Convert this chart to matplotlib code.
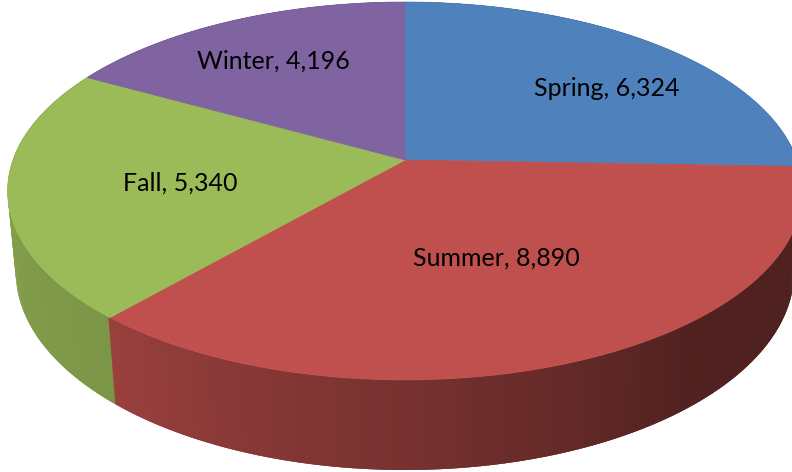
import numpy as np
import matplotlib
matplotlib.use("Agg")
import matplotlib.pyplot as plt
from matplotlib.patches import Polygon
from matplotlib.colors import to_rgb

# ---- data ----
seasons = ["Spring", "Summer", "Fall", "Winter"]
values = [6324, 8890, 5340, 4196]
colors = ["#4F81BD", "#C0504D", "#9BBB59", "#8064A2"]

# ---- layout / style ----
W, H = 792, 472
label_xy = [(607, 96), (496, 266), (180, 191), (273, 69)]  # centre x, baseline y
label_font = ["Lato", "DejaVu Sans"]
label_size = 18

# perspective camera for the 3-D pie
s = 0.469
c = np.sqrt(1 - s * s)
D = 5.39      # camera distance (pie radius = 1)
F = 2113.0    # focal length in px
h = 0.236     # pie thickness
cx, cy = 405, 160


def proj(u, v, z):
    den = v * c - z * s + D
    X = F * u / den
    Y = F * (v * s + z * c) / den
    return cx + X, cy - Y


def shade(theta):
    return np.interp(theta, [-180, -131, -90, -50, 0, 180],
                     [0.86, 0.80, 0.62, 0.42, 0.40, 0.40])


fig = plt.figure(figsize=(W / 100, H / 100), dpi=100)
ax = fig.add_axes([0, 0, 1, 1])
ax.set_xlim(0, W)
ax.set_ylim(H, 0)
ax.axis("off")

vals = np.asarray(values, float)
total = vals.sum()
edges = 90 - 360 * np.concatenate([[0], np.cumsum(vals)]) / total  # clockwise from 12 o'clock

# side walls (back to front), small overlapping strips for a smooth gradient
step = 0.5
quads = []
for i in range(len(vals)):
    a0, a1 = edges[i], edges[i + 1]
    n = max(int(abs(a0 - a1) / step), 2)
    th = np.linspace(a0, a1, n + 1)
    base = np.array(to_rgb(colors[i]))
    for t0, t1 in zip(th[:-1], th[1:]):
        tm = 0.5 * (t0 + t1)
        r0 = np.radians(t0 + 0.3)
        r1 = np.radians(t1 - 0.3)
        pts = [proj(np.cos(r0), np.sin(r0), 0), proj(np.cos(r1), np.sin(r1), 0),
               proj(np.cos(r1), np.sin(r1), -h), proj(np.cos(r0), np.sin(r0), -h)]
        tn = ((tm + 180) % 360) - 180
        col = np.clip(base * shade(tn), 0, 1)
        quads.append((np.sin(np.radians(tm)), pts, col))
quads.sort(key=lambda q: -q[0])
for k, (_, pts, col) in enumerate(quads):
    ax.add_patch(Polygon(pts, closed=True, facecolor=col, edgecolor="none",
                         linewidth=0, zorder=1 + k * 1e-5))

# top faces
for i in range(len(vals)):
    a0, a1 = edges[i], edges[i + 1]
    th = np.radians(np.linspace(a0, a1, 300))
    pts = [proj(0, 0, 0)] + [proj(np.cos(t), np.sin(t), 0) for t in th]
    ax.add_patch(Polygon(pts, closed=True, facecolor=colors[i], edgecolor=colors[i],
                         linewidth=0.5, zorder=3))

# labels
for name, v, (x, y) in zip(seasons, values, label_xy):
    ax.text(x, y, f"{name}, {v:,}", ha="center", va="baseline",
            fontsize=label_size, family=label_font, color="black", zorder=5)

fig.savefig("out.png", dpi=100, facecolor="white")
